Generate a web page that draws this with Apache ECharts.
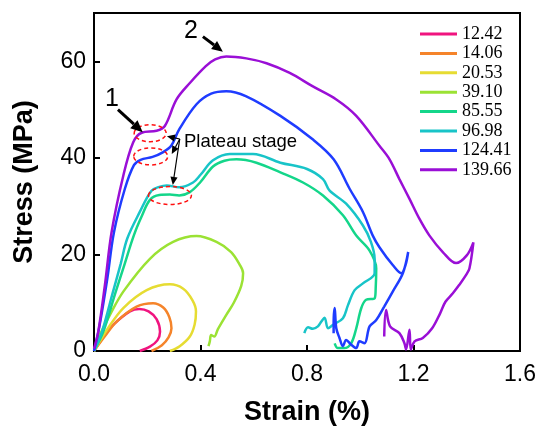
<!DOCTYPE html>
<html>
<head>
<meta charset="utf-8">
<script src="https://cdn.jsdelivr.net/npm/echarts@6/dist/echarts.min.js"></script>
<style>
  html, body { margin: 0; padding: 0; background: #fff; }
  #chart { width: 540px; height: 431px; }
</style>
</head>
<body>
<div id="chart"></div>
<script>
// strain (%) / stress (MPa) pairs
const s12_42 = [[0,0],[0.03,2.5],[0.072,5.4],[0.135,8.2],[0.17,8.7],[0.205,8.2],[0.235,6.6],[0.248,4.0],[0.238,2.2],[0.21,0.9],[0.172,0]];
const s14_06 = [[0,0],[0.04,3],[0.085,6.1],[0.16,9.2],[0.222,9.9],[0.26,9.0],[0.283,7.0],[0.291,4.7],[0.28,2.8],[0.255,1.2],[0.216,0]];
const s20_53 = [[0,0],[0.05,4.5],[0.11,8.9],[0.198,12.6],[0.285,13.8],[0.335,12.9],[0.37,10.5],[0.383,8.2],[0.378,5.5],[0.36,3.0],[0.322,1.0],[0.285,0]];
const s39_10 = [[0,0],[0.0225,3.4],[0.06,7.5],[0.11,12.3],[0.21,19.1],[0.297,22.6],[0.385,23.8],[0.46,22.6],[0.515,20.5],[0.548,17.8],[0.56,16.1],[0.553,13.5],[0.525,10.0],[0.497,7.5],[0.465,4.5],[0.452,3.0],[0.44,3.3],[0.435,2.0],[0.43,1.0]];
const s85_55 = [[0,0],[0.035,4],[0.08,12],[0.115,18],[0.15,24],[0.18,28],[0.21,31.3],[0.245,32.3],[0.285,32.4],[0.32,32.2],[0.36,32.9],[0.40,35.0],[0.447,38.2],[0.49,39.4],[0.535,39.7],[0.61,39.0],[0.70,37.0],[0.785,34.9],[0.86,32.2],[0.935,28.1],[0.985,23.9],[1.035,20.8],[1.06,17.1],[1.058,13.0],[1.054,10.9],[1.022,10.6],[1.004,8.9],[0.985,4.7],[0.966,1.6],[0.94,0.6],[0.916,0.6],[0.904,1.6]];
const s96_98 = [[0,0],[0.03,4],[0.07,12],[0.1,18],[0.125,23.3],[0.172,28.8],[0.216,33.2],[0.245,34.0],[0.273,34.3],[0.32,33.9],[0.372,34.9],[0.40,36.5],[0.447,39.5],[0.51,40.8],[0.597,40.8],[0.70,39.0],[0.80,37.7],[0.86,35.6],[0.885,33.2],[0.947,30.5],[1.01,26.0],[1.04,22.6],[1.054,19.1],[1.054,16.1],[1.01,14.0],[0.979,12.6],[0.954,9.5],[0.935,6.8],[0.897,5.4],[0.879,4.7],[0.866,6.9],[0.854,6.1],[0.841,5.1],[0.822,4.6],[0.804,4.9],[0.79,3.7]];
const s124_41 = [[0,0],[0.02,5],[0.05,15],[0.075,24.6],[0.116,33.6],[0.15,38.5],[0.175,39.6],[0.22,40.2],[0.26,41.2],[0.29,42.5],[0.32,45.9],[0.385,51.1],[0.44,53.3],[0.497,53.8],[0.57,52.8],[0.70,48.7],[0.82,43.9],[0.90,39.7],[0.96,33.6],[1.01,28.8],[1.047,23.9],[1.072,21.5],[1.122,17.8],[1.154,16.1],[1.17,17.8],[1.18,20.5],[1.16,16.1],[1.122,12.3],[1.09,9.2],[1.06,6.4],[1.035,5.1],[1.016,1.6],[0.997,2.0],[0.985,0.6],[0.966,1.3],[0.947,2.3],[0.935,1.0],[0.922,2.7],[0.91,4.7],[0.904,8.9],[0.90,5.4],[0.90,3.7]];
const s139_66 = [[0,0.5],[0.016,4],[0.041,13.7],[0.066,24.6],[0.11,36.3],[0.147,43.2],[0.179,45.2],[0.235,45.6],[0.266,46.6],[0.31,52.1],[0.36,55.5],[0.42,59.0],[0.455,60.4],[0.497,61.0],[0.572,60.6],[0.648,59.6],[0.735,57.6],[0.822,54.8],[0.91,52.1],[0.985,48.7],[1.072,42.5],[1.11,39.7],[1.147,35.6],[1.185,31.5],[1.222,27.4],[1.26,23.9],[1.31,20.5],[1.36,18.2],[1.40,19.8],[1.425,22.5],[1.41,17.1],[1.397,15.7],[1.372,13.7],[1.347,11.9],[1.32,10.2],[1.30,7.8],[1.27,4.7],[1.235,2.7],[1.204,2.0],[1.19,0.3],[1.185,4.4],[1.172,0.3],[1.166,1.6],[1.147,3.7],[1.112,5.1],[1.097,8.5],[1.09,3.0]];

const seriesNames = ['12.42', '14.06', '20.53', '39.10', '85.55', '96.98', '124.41', '139.66'];
const seriesData = [s12_42, s14_06, s20_53, s39_10, s85_55, s96_98, s124_41, s139_66];
const colors = ['#f0147f', '#f5842a', '#e6dc32', '#9be234', '#14d68a', '#18c4c8', '#1f3cff', '#9a0fd6'];

const xTicks = [0, 1.6, 0.4];   // min, max, step
const yTicks = [0, 70, 20];

const chart = echarts.init(document.getElementById('chart'));

chart.setOption({
  animation: false,
  backgroundColor: '#fff',
  grid: { left: 94, right: 20, top: 13, bottom: 78, show: true, borderColor: '#000', borderWidth: 2 },
  legend: {
    orient: 'vertical',
    left: 415,
    top: 20,
    icon: 'rect',
    itemWidth: 37,
    itemHeight: 3,
    itemGap: 1.4,
    textStyle: { fontFamily: 'Liberation Serif', fontSize: 18, color: '#000' },
    data: seriesNames
  },
  xAxis: {
    type: 'value',
    min: xTicks[0], max: xTicks[1], interval: xTicks[2],
    name: 'Strain (%)',
    nameLocation: 'middle',
    nameGap: 48,
    nameTextStyle: { fontFamily: 'Liberation Sans', fontSize: 27, fontWeight: 'bold', color: '#000' },
    axisLine: { lineStyle: { color: '#000', width: 2 } },
    axisTick: { inside: true, length: 6, lineStyle: { color: '#000', width: 2 } },
    axisLabel: { fontFamily: 'Liberation Sans', fontSize: 23, color: '#000', margin: 12, formatter: v => v.toFixed(1) },
    splitLine: { show: false }
  },
  yAxis: {
    type: 'value',
    min: yTicks[0], max: yTicks[1], interval: yTicks[2],
    name: 'Stress (MPa)',
    nameLocation: 'middle',
    nameGap: 56,
    nameTextStyle: { fontFamily: 'Liberation Sans', fontSize: 27, fontWeight: 'bold', color: '#000' },
    axisLine: { lineStyle: { color: '#000', width: 2 } },
    axisTick: { inside: true, length: 6, lineStyle: { color: '#000', width: 2 } },
    axisLabel: { fontFamily: 'Liberation Sans', fontSize: 23, color: '#000', margin: 8, showMaxLabel: false },
    splitLine: { show: false }
  },
  series: seriesData.map((d, i) => ({
    name: seriesNames[i],
    type: 'line',
    data: d,
    smooth: 0.35,
    showSymbol: false,
    symbol: 'none',
    lineStyle: { color: colors[i], width: 2.5 },
    itemStyle: { color: colors[i] }
  }))
});

// annotations, placed in data coordinates
const px = p => chart.convertToPixel({ gridIndex: 0 }, p);

function arrow(from, to, width, head) {
  const a = px(from), b = px(to);
  const ang = Math.atan2(b[1] - a[1], b[0] - a[0]);
  const hl = head, hw = head * 0.45;
  const base = [b[0] - hl * Math.cos(ang), b[1] - hl * Math.sin(ang)];
  const left = [base[0] + hw * Math.sin(ang), base[1] - hw * Math.cos(ang)];
  const right = [base[0] - hw * Math.sin(ang), base[1] + hw * Math.cos(ang)];
  return [
    { type: 'line', shape: { x1: a[0], y1: a[1], x2: base[0], y2: base[1] }, style: { stroke: '#000', lineWidth: width }, z: 100 },
    { type: 'polygon', shape: { points: [b, left, right] }, style: { fill: '#000' }, z: 100 }
  ];
}

function ring(c, rx, ry) {
  const p = px(c);
  return { type: 'ellipse', shape: { cx: p[0], cy: p[1], rx: rx, ry: ry }, style: { fill: null, stroke: '#ff1010', lineWidth: 1.5, lineDash: [4, 3] }, z: 100 };
}

function label(c, text, size, align) {
  const p = px(c);
  return { type: 'text', x: p[0], y: p[1], style: { text: text, fontFamily: 'Liberation Sans', fontSize: size, fill: '#000', align: align, verticalAlign: 'middle' }, z: 100 };
}

const hub = [0.322, 43.9];
chart.setOption({
  graphic: [
    ring([0.211, 45.1], 16, 8.5),
    ring([0.213, 40.3], 17, 8.5),
    ring([0.285, 32.2], 21.5, 9),
    label([0.067, 52.1], '1', 25, 'center'),
    label([0.364, 66.3], '2', 25, 'center'),
    label([0.338, 43.4], 'Plateau stage', 18.5, 'left'),
    ...arrow([0.09, 50.0], [0.183, 45.3], 3, 12),
    ...arrow([0.409, 65.1], [0.484, 62.0], 3, 11),
    ...arrow(hub, [0.274, 44.5], 1.2, 8),
    ...arrow(hub, [0.292, 40.8], 1.2, 8),
    ...arrow(hub, [0.296, 34.4], 1.2, 8)
  ]
});
</script>
</body>
</html>
